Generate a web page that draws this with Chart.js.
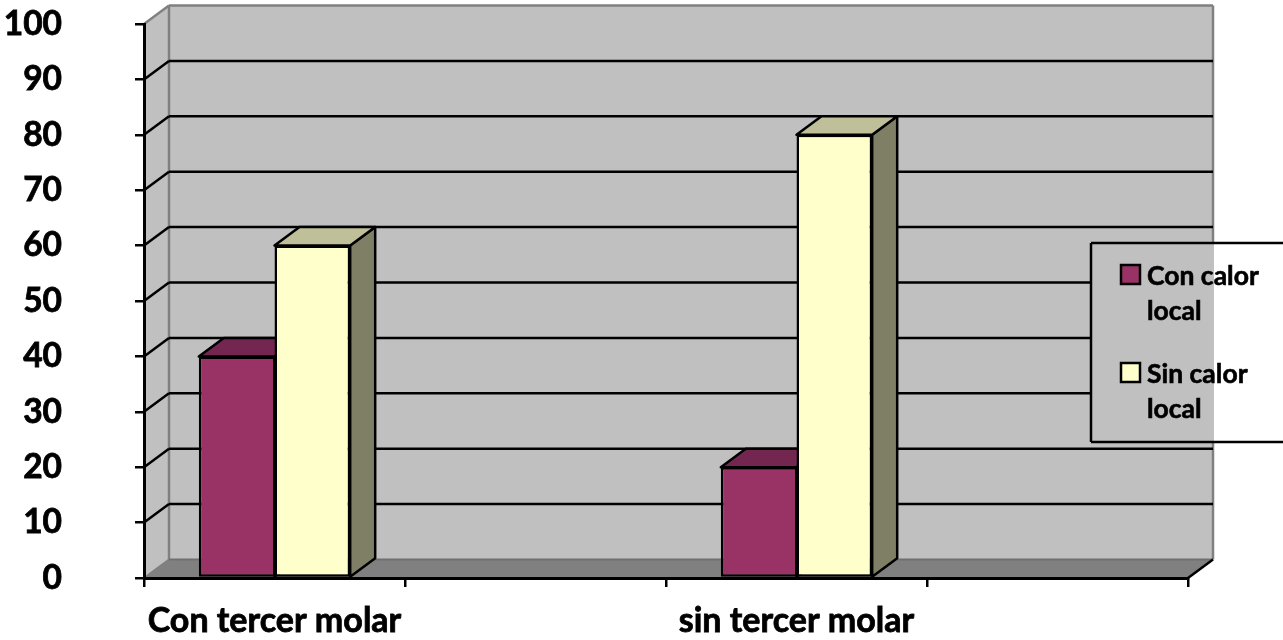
<!DOCTYPE html>
<html>
<head>
<meta charset="utf-8">
<title>Con calor local / Sin calor local</title>
<script src="https://cdn.jsdelivr.net/npm/chart.js@4"></script>
<style>
  html, body { margin: 0; padding: 0; background: #fff; overflow: hidden; }
  canvas { display: block; }
</style>
</head>
<body>
<canvas id="barChart" width="1283" height="640"></canvas>
<script>
/* ===== Data ===== */
const categories = ['Con tercer molar', '', 'sin tercer molar', ''];
const conCalor = [40, null, 20, null];
const sinCalor = [60, null, 80, null];
const seriesNames = ['Con calor local', 'Sin calor local'];

/* ===== Fake 3D look ===== */
const depthX = 25;
const depthY = -18.5;
const fontFamily = 'Lato, sans-serif';
const faces = [
    { front: '#993366', top: '#732650', side: '#732650' },
    { front: '#FFFFCC', top: '#BFBF99', side: '#7F7F66' }
];

function poly(ctx, pts, fill, stroke, width) {
    ctx.beginPath();
    pts.forEach((p, i) => i ? ctx.lineTo(p[0], p[1]) : ctx.moveTo(p[0], p[1]));
    ctx.closePath();
    if (fill) { ctx.fillStyle = fill; ctx.fill(); }
    if (stroke) { ctx.strokeStyle = stroke; ctx.lineWidth = width; ctx.stroke(); }
}

function line(ctx, x1, y1, x2, y2, color, width) {
    ctx.beginPath();
    ctx.moveTo(x1, y1);
    ctx.lineTo(x2, y2);
    ctx.strokeStyle = color;
    ctx.lineWidth = width;
    ctx.stroke();
}

// ticks.padding also ends up in the layout padding, drop it so chartArea stays put
function fixSize(scale, w, h) {
    if (w) scale.width = w;
    if (h) scale.height = h;
    scale.paddingTop = scale.paddingBottom = scale.paddingLeft = scale.paddingRight = 0;
}

/* walls, floor and gridlines behind everything */
const wallsPlugin = {
    id: 'walls',
    beforeDraw(chart) {
        const { ctx, chartArea: a, scales } = chart;
        const bx = a.left + depthX, by = depthY;
        ctx.save();
        poly(ctx, [[a.left, a.top], [bx, a.top + by], [bx, a.bottom + by], [a.left, a.bottom]], '#C0C0C0');
        poly(ctx, [[bx, a.top + by], [a.right + depthX, a.top + by], [a.right + depthX, a.bottom + by], [bx, a.bottom + by]], '#C0C0C0');
        poly(ctx, [[a.left, a.bottom], [a.right, a.bottom], [a.right + depthX, a.bottom + by], [bx, a.bottom + by]], '#808080');

        // wall outline
        line(ctx, a.left, a.top, bx, a.top + by, '#808080', 2.5);
        line(ctx, bx, a.top + by, a.right + depthX, a.top + by, '#808080', 2.5);
        line(ctx, bx, a.top + by, bx, a.bottom + by, '#808080', 2.5);
        line(ctx, a.right + depthX, a.top + by, a.right + depthX, a.bottom + by, '#808080', 2.5);
        line(ctx, a.left, a.bottom, bx, a.bottom + by, '#808080', 2);
        line(ctx, bx, a.bottom + by, a.right + depthX, a.bottom + by, '#707070', 2);
        line(ctx, a.right, a.bottom, a.right + depthX, a.bottom + by, '#000', 2.5);

        scales.y.ticks.forEach(t => {
            if (t.value === 0 || t.value === 100) return;
            const y = scales.y.getPixelForValue(t.value);
            line(ctx, a.left, y, bx, y + by, '#000', 2.5);
            line(ctx, bx, y + by, a.right + depthX, y + by, '#000', 2.5);
        });
        ctx.restore();
    },
    // top and side of each bar, the front comes from the bar dataset itself
    beforeDatasetsDraw(chart) {
        const { ctx } = chart;
        ctx.save();
        ctx.lineJoin = 'round';
        chart.data.datasets.forEach((ds, i) => {
            chart.getDatasetMeta(i).data.forEach((bar, j) => {
                if (ds.data[j] === null) return;
                const half = bar.width / 2;
                const l = bar.x - half, r = bar.x + half, t = bar.y, b = bar.base;
                poly(ctx, [[r, t], [r + depthX, t + depthY], [r + depthX, b + depthY], [r, b]], faces[i].side, '#000', 2.5);
                poly(ctx, [[l, t], [l + depthX, t + depthY], [r + depthX, t + depthY], [r, t]], faces[i].top, '#000', 2.5);
            });
        });
        ctx.restore();
    },
    // legend box runs off the right side of the picture
    afterDraw(chart) {
        const { ctx, chartArea: a, width } = chart;
        const left = 1091, top = 243, bottom = 442;
        const wallEdge = a.right + depthX + 1;
        ctx.save();
        ctx.fillStyle = '#C0C0C0';
        ctx.fillRect(left, top, wallEdge - left, bottom - top);
        ctx.fillStyle = '#fff';
        ctx.fillRect(wallEdge, top, width - wallEdge, bottom - top);
        line(ctx, width, top, left, top, '#000', 2.5);
        line(ctx, left, top, left, bottom, '#000', 2.5);
        line(ctx, left, bottom, width, bottom, '#000', 2.5);

        const rows = [265, 363];
        ctx.font = 'bold 26.5px ' + fontFamily;
        ctx.textAlign = 'left';
        ctx.textBaseline = 'alphabetic';
        seriesNames.forEach((name, i) => {
            const y = rows[i];
            ctx.fillStyle = faces[i].front;
            ctx.fillRect(1121, y, 19, 19);
            ctx.strokeStyle = '#000';
            ctx.lineWidth = 2.5;
            ctx.strokeRect(1121, y, 19, 19);
            ctx.fillStyle = '#000';
            ctx.lineWidth = 0.6;
            const cut = name.lastIndexOf(' ');
            ctx.fillText(name.slice(0, cut), 1147, y + 20);
            ctx.strokeText(name.slice(0, cut), 1147, y + 20);
            ctx.fillText(name.slice(cut + 1), 1147, y + 55);
            ctx.strokeText(name.slice(cut + 1), 1147, y + 55);
        });
        ctx.restore();
    }
};

/* ===== Chart ===== */
const chart = new Chart(document.getElementById('barChart').getContext('2d'), {
    type: 'bar',
    data: {
        labels: categories,
        datasets: [
            {
                label: seriesNames[0],
                data: conCalor,
                backgroundColor: faces[0].front,
                borderColor: '#000',
                borderWidth: { left: 2.5, top: 2.5, bottom: 2.5, right: 1.5 },
                borderSkipped: false
            },
            {
                label: seriesNames[1],
                data: sinCalor,
                backgroundColor: faces[1].front,
                borderColor: '#000',
                borderWidth: 2.5,
                borderSkipped: false
            }
        ]
    },
    options: {
        responsive: false,
        animation: false,
        categoryPercentage: 0.58,
        barPercentage: 1,
        layout: { padding: { top: 24, right: 95, left: 0, bottom: 0 } },
        plugins: {
            legend: { display: false },
            tooltip: { enabled: false }
        },
        scales: {
            x: {
                afterFit: s => fixSize(s, 0, 62),
                grid: { drawOnChartArea: false, color: '#000', lineWidth: 2.5, tickLength: 9 },
                border: { color: '#000', width: 3, z: 1 },
                ticks: {
                    color: '#000',
                    textStrokeColor: '#000',
                    textStrokeWidth: 0.8,
                    padding: 14,
                    maxRotation: 0,
                    autoSkip: false,
                    font: { family: fontFamily, size: 34, weight: 'bold' }
                }
            },
            y: {
                min: 0,
                max: 100,
                afterFit: s => fixSize(s, 144, 0),
                grid: { drawOnChartArea: false, color: '#000', lineWidth: 2.5, tickLength: 9 },
                border: { color: '#000', width: 3, z: 1 },
                ticks: {
                    stepSize: 10,
                    color: '#000',
                    textStrokeColor: '#000',
                    textStrokeWidth: 0.8,
                    padding: 73,
                    font: { family: fontFamily, size: 33.5, weight: 'bold' }
                }
            }
        }
    },
    plugins: [wallsPlugin]
});
</script>
</body>
</html>
